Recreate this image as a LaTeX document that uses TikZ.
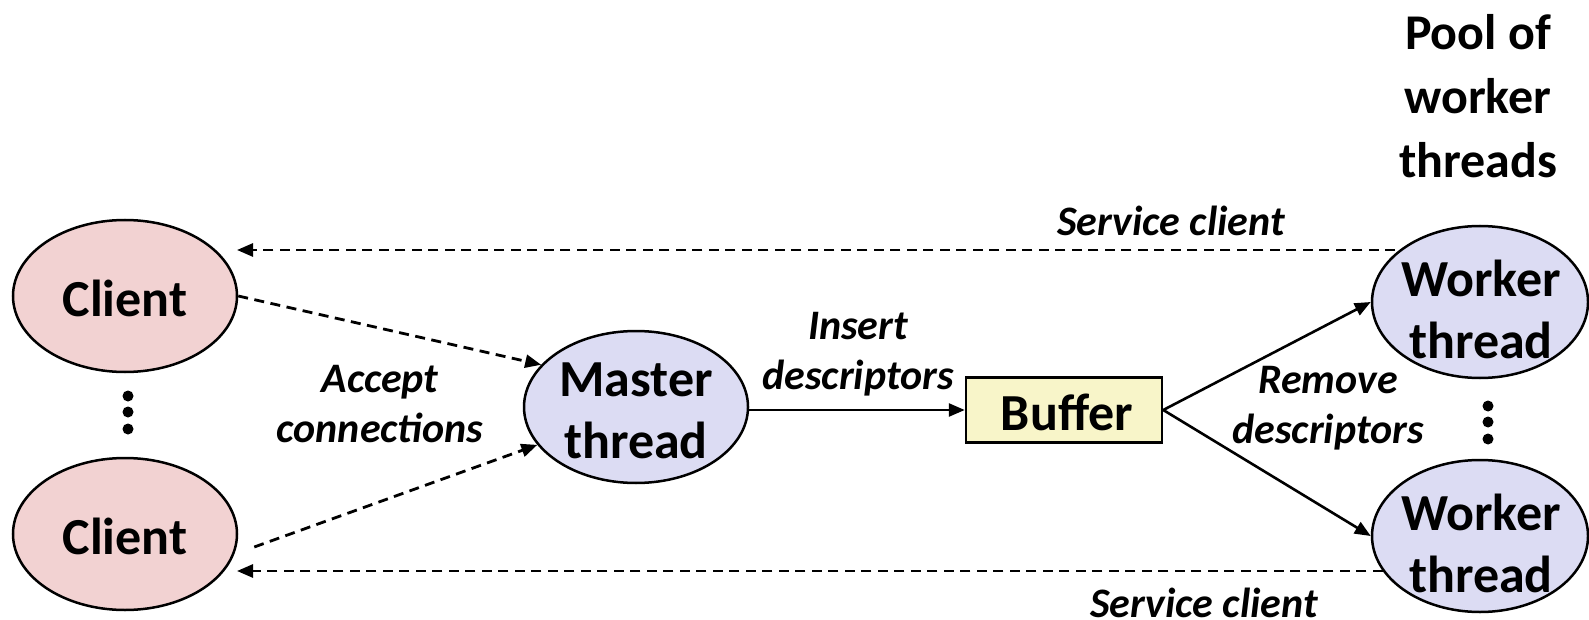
\documentclass[tikz,border=0pt]{standalone}
\usepackage{fontspec}
\setmainfont{Carlito}
\usetikzlibrary{shapes.geometric,arrows.meta}
\definecolor{clientfill}{HTML}{F2D2D2}
\definecolor{threadfill}{HTML}{DCDCF3}
\definecolor{bufferfill}{HTML}{F8F5C9}
\begin{document}
\begin{tikzpicture}[x=1pt,y=-1pt,
  oval/.style={ellipse, draw, line width=2.5pt, inner sep=0pt, minimum width=224pt, minimum height=152pt},
  clientoval/.style={oval, fill=clientfill},
  threadoval/.style={oval, fill=threadfill},
  workeroval/.style={threadoval, minimum width=216pt},
  bigtext/.style={font=\fontsize{52}{62}\selectfont\bfseries, align=center, inner sep=0pt},
  pooltext/.style={font=\fontsize{50}{64}\selectfont\bfseries, align=center, inner sep=0pt},
  lbltext/.style={font=\fontsize{42}{50}\selectfont\bfseries\itshape, align=center, inner sep=0pt},
  tip/.style={-{Triangle[length=16pt,width=13pt]}},
  dashline/.style={line width=2.8pt, dash pattern=on 10pt off 6.5pt},
  solidline/.style={line width=2.6pt},
  dotmark/.style={circle, fill=black, inner sep=0pt, minimum size=11pt}
]
\useasboundingbox (0,0) rectangle (1589,620);

% nodes
\node[clientoval] (c1) at (125,296) {};
\node[bigtext] (c1t) at (125,298) {Client};
\node[clientoval] (c2) at (125,534) {};
\node[bigtext] (c2t) at (125,536) {Client};
\node[threadoval] (m) at (636,407) {};
\node[bigtext] (mt) at (636,411) {Master\\thread};
\node[draw, line width=2.5pt, fill=bufferfill, minimum width=196pt, minimum height=65pt, inner sep=0pt] (b) at (1064,410) {};
\node[bigtext] (bt) at (1067,412) {Buffer};
\node[workeroval] (w1) at (1480,302) {};
\node[bigtext] (w1t) at (1481,309) {Worker\\thread};
\node[workeroval] (w2) at (1480,536) {};
\node[bigtext] (w2t) at (1481,543) {Worker\\thread};

\node[pooltext] (pool) at (1478,96) {Pool of\\worker\\threads};

% dots
\node[dotmark] (d1) at (128,396) {};
\node[dotmark] (d2) at (128,412) {};
\node[dotmark] (d3) at (128,429) {};
\node[dotmark] (d4) at (1488,406) {};
\node[dotmark] (d5) at (1488,422) {};
\node[dotmark] (d6) at (1488,439) {};

% labels
\node[lbltext] (acc) at (380,404) {Accept\\connections};
\node[lbltext] (ins) at (858,354) {Insert\\descriptors};
\node[lbltext] (rem) at (1328,408) {Remove\\descriptors};
\node[lbltext] (svc1t) at (1171,221) {Service client};
\node[lbltext] (svc2t) at (1204,603) {Service client};

% free ends
\coordinate (svc1) at (237,250);
\coordinate (svc2) at (237,571);
\path (c2.east) ++ (16,13) coordinate (c2out);

% connectors
\draw[dashline, tip] (c1.east) -- (m.156);
\draw[dashline, tip] (c2out) -- (m.201);
\draw[solidline, tip] (m.east |- b.west) -- (b.west);
\draw[solidline, tip] (b.east) -- (w1.west);
\draw[solidline, tip] (b.east) -- (w2.west);
\draw[dashline, tip] (w1.150 |- svc1) -- (svc1);
\draw[dashline, tip] (w2.200 |- svc2) -- (svc2);
\end{tikzpicture}
\end{document}
